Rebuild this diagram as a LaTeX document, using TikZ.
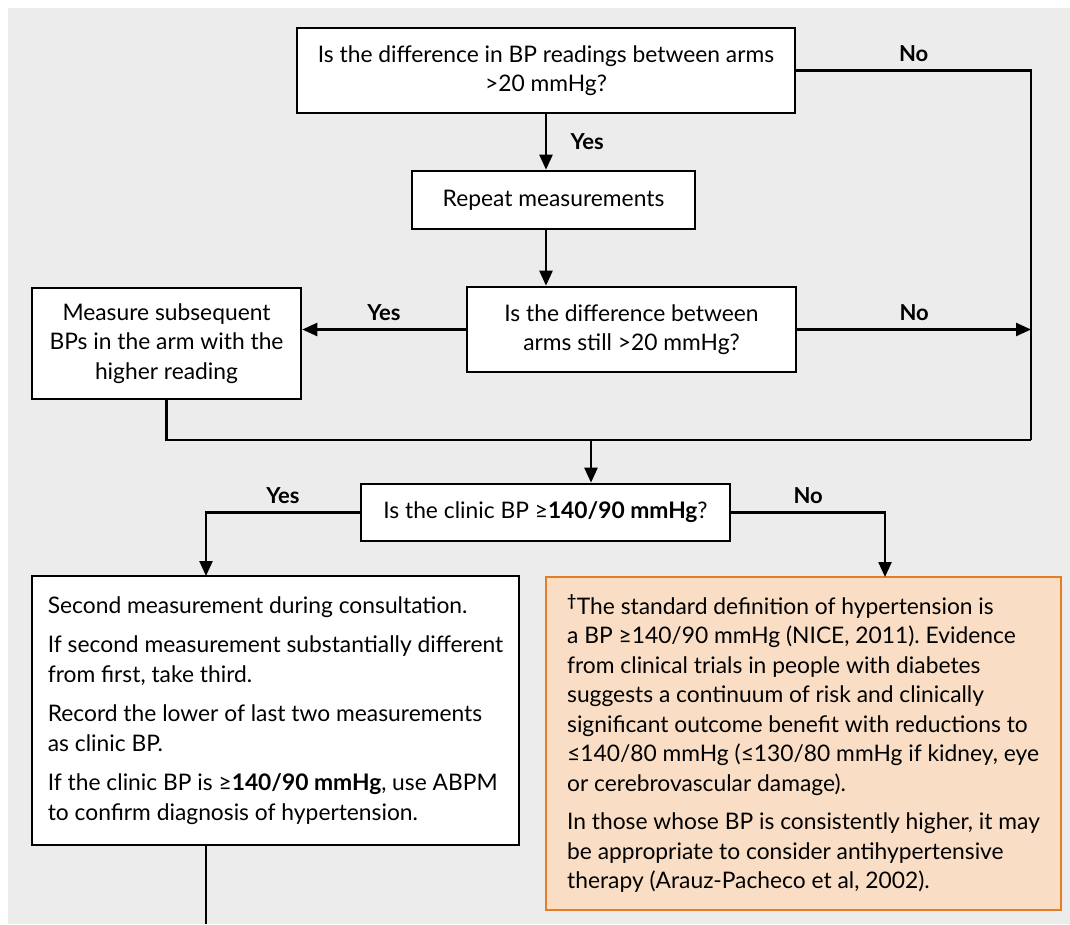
\documentclass[tikz,border=0pt]{standalone}
\usepackage{fontspec}
\setmainfont{Lato}
\usetikzlibrary{arrows.meta,positioning}
\definecolor{bggrey}{RGB}{236,236,236}
\definecolor{notefill}{RGB}{249,222,197}
\definecolor{noteline}{RGB}{228,126,36}
\newcommand{\bptext}{\fontsize{22.8}{29.5}\selectfont\frenchspacing}
\begin{document}
\begin{tikzpicture}[x=1pt,y=-1pt]
    \tikzstyle{question} = [rectangle, draw=black, line width=2.6pt, fill=white, align=center, font=\bptext]
    \tikzstyle{infobox} = [rectangle, draw=black, line width=2.6pt, fill=white, align=left, font=\bptext]
    \tikzstyle{notebox} = [rectangle, draw=noteline, line width=2.6pt, fill=notefill, align=left, font=\bptext]
    \tikzstyle{line} = [line width=2.4pt]
    \tikzstyle{arrow} = [line, -{Triangle[length=15pt,width=13pt]}]
    \tikzstyle{answer} = [font=\fontsize{22}{26}\selectfont\bfseries]

    \useasboundingbox (0,0) rectangle (1070,924);
    \fill[bggrey] (8,8) rectangle (1070,924);

    \node (q1) [question, minimum width=498pt, minimum height=85pt] at (546,70.5) {Is the difference in BP readings between arms\\>20 mmHg?};
    \node (rep) [question, minimum width=283pt, minimum height=58pt] at (553.5,200) {Repeat measurements};
    \node (q2) [question, minimum width=329pt, minimum height=85pt] at (631.5,329.5) {Is the difference between\\arms still >20 mmHg?};
    \node (meas) [question, minimum width=269pt, minimum height=111pt] at (166.5,343.5) {Measure subsequent\\BPs in the arm with the\\higher reading};
    \node (q3) [question, minimum width=369pt, minimum height=57pt] at (545.5,512.5) {Is the clinic BP ≥\textbf{140/90 mmHg}?};
    \node (consult) [infobox, minimum width=487pt, minimum height=269pt] at (275.5,710.5) {Second measurement during consultation.\\[10pt]
        If second measurement substantially different\\from first, take third.\\[10pt]
        Record the lower of last two measurements\\as clinic BP.\\[10pt]
        If the clinic BP is ≥\textbf{140/90 mmHg}, use ABPM\\to confirm diagnosis of hypertension.};
    \node (note) [notebox, minimum width=515pt, minimum height=333pt] at (803.5,743.5) {\textsuperscript{\textbf{†}}The standard definition of hypertension is\\a BP ≥140/90 mmHg (NICE, 2011). Evidence\\from clinical trials in people with diabetes\\suggests a continuum of risk and clinically\\significant outcome benefit with reductions to\\≤140/80 mmHg (≤130/80 mmHg if kidney, eye\\or cerebrovascular damage).\\[9pt]
        In those whose BP is consistently higher, it may\\be appropriate to consider antihypertensive\\therapy (Arauz-Pacheco et al, 2002).};

    \coordinate (rjoin) at (1031,440);
    \coordinate (ljoin) at (meas.south |- rjoin);
    \coordinate (mjoin) at (591,440);
    \coordinate (ydown) at (206,576);
    \coordinate (ndown) at (885,577);
    \coordinate (cbot) at (206,924);

    \draw [arrow] (q1.south) -- node[answer, right=20pt] {Yes} (q1.south |- rep.north);
    \draw [arrow] (q1.south |- rep.south) -- (q1.south |- q2.north);
    \draw [line] (q1.east) -- node[answer, above=4pt] {No} (q1.east -| rjoin) -- (rjoin);
    \draw [arrow] (q2.east) -- node[answer, above=4pt] {No} (q2.east -| rjoin);
    \draw [arrow] (q2.west) -- node[answer, above=4pt] {Yes} (q2.west -| meas.east);
    \draw [line] (meas.south) -- (ljoin) -- (rjoin);
    \draw [arrow] (mjoin) -- (mjoin |- q3.north);

    % Clinic BP branches
    \draw [arrow] (q3.west) -- node[answer, above=4pt] {Yes} (q3.west -| ydown) -- (ydown);
    \draw [arrow] (q3.east) -- node[answer, above=4pt] {No} (q3.east -| ndown) -- (ndown);
    \draw [line] (ydown |- consult.south) -- (cbot);
\end{tikzpicture}
\end{document}
